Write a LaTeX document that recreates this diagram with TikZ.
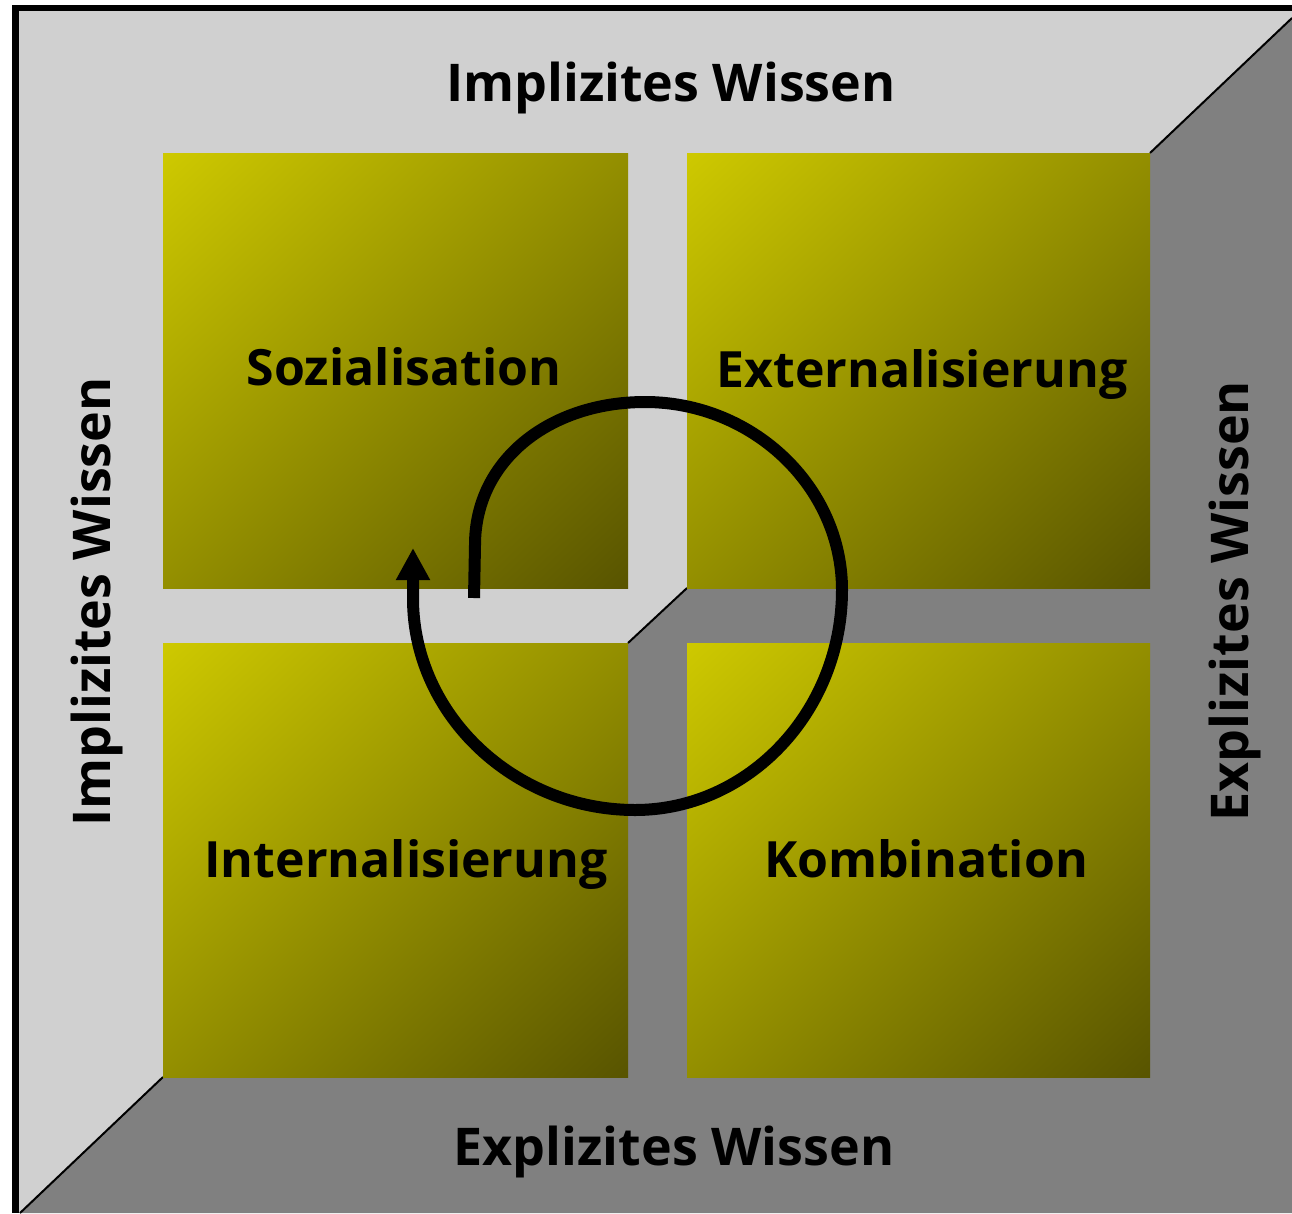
\documentclass[tikz,border=0pt]{standalone}
\usepackage{fontspec}
\setmainfont{Open Sans}
\usetikzlibrary{arrows.meta,shadings}
\definecolor{lightbg}{RGB}{208,208,208}
\definecolor{darkbg}{RGB}{128,128,128}
\definecolor{ybright}{RGB}{206,201,0}
\definecolor{ydark}{RGB}{88,84,0}
\colorlet{ymid}{ybright!50!ydark}
\begin{document}
\begin{tikzpicture}[x=1pt,y=-1pt,
  quad/.style={shade, draw=none,
    upper left=ybright, lower right=ydark, upper right=ymid, lower left=ymid},
  edgelabel/.style={font=\fontsize{52}{60}\selectfont\bfseries, inner sep=0pt},
  quadlabel/.style={font=\fontsize{50}{58}\selectfont\bfseries, inner sep=0pt, anchor=base},
  splitline/.style={black, line width=2pt},
  cycle/.style={line width=12pt, line cap=butt, line join=round, -{Triangle[width=32pt,length=32pt]}}
]
\useasboundingbox (0,0) rectangle (1292,1213);
\fill[white] (0,0) rectangle (1292,1213);
% frame
\fill[black] (12,5) rectangle (1292,1213);
\fill[lightbg] (19,11) rectangle (1292,1213);
% dark region
\coordinate (bl) at (20,1213);
\coordinate (blc) at (163,1077);
\coordinate (cl) at (628,643);
\coordinate (cr) at (687,588);
\coordinate (trc) at (1150,153);
\coordinate (tr) at (1292,18);
\fill[darkbg] (bl) -- (blc) -- (628,1077) -- (cl) -- (cr) -- (1150,588) -- (trc) -- (tr) -- (1292,1213) -- cycle;
\draw[splitline] (bl) -- (blc);
\draw[splitline] (cl) -- (cr);
\draw[splitline] (trc) -- (tr);
% quadrants
\path[quad] (163,153) rectangle (628,588);
\path[quad] (687,153) rectangle (1150,588);
\path[quad] (163,643) rectangle (628,1077);
\path[quad] (687,643) rectangle (1150,1077);
% labels
\node[quadlabel] (soz) at (404,385) {Sozialisation};
\node[quadlabel] (ext) at (922,387) {Externalisierung};
\node[quadlabel] (int) at (406,877) {Internalisierung};
\node[quadlabel] (kom) at (926,877) {Kombination};
\node[edgelabel, anchor=base] (topl) at (671,101) {Implizites Wissen};
\node[edgelabel, anchor=base] (botl) at (674,1165) {Explizites Wissen};
\node[edgelabel, anchor=base, rotate=90] (leftl) at (110,602) {Implizites Wissen};
\node[edgelabel, anchor=base, rotate=90] (rightl) at (1248,601) {Explizites Wissen};
% cycle arrow
\coordinate (cstart) at (474,598);
\coordinate (ctip) at (413,548);
\draw[cycle] (cstart) -- (475,545)
  .. controls (475,460) and (550,402) .. (645,402)
  .. controls (753,402) and (842,487) .. (842,590)
  .. controls (842,711) and (749,810) .. (635,810)
  .. controls (515,810) and (414,716) .. (413,600)
  -- (ctip);
\end{tikzpicture}
\end{document}
